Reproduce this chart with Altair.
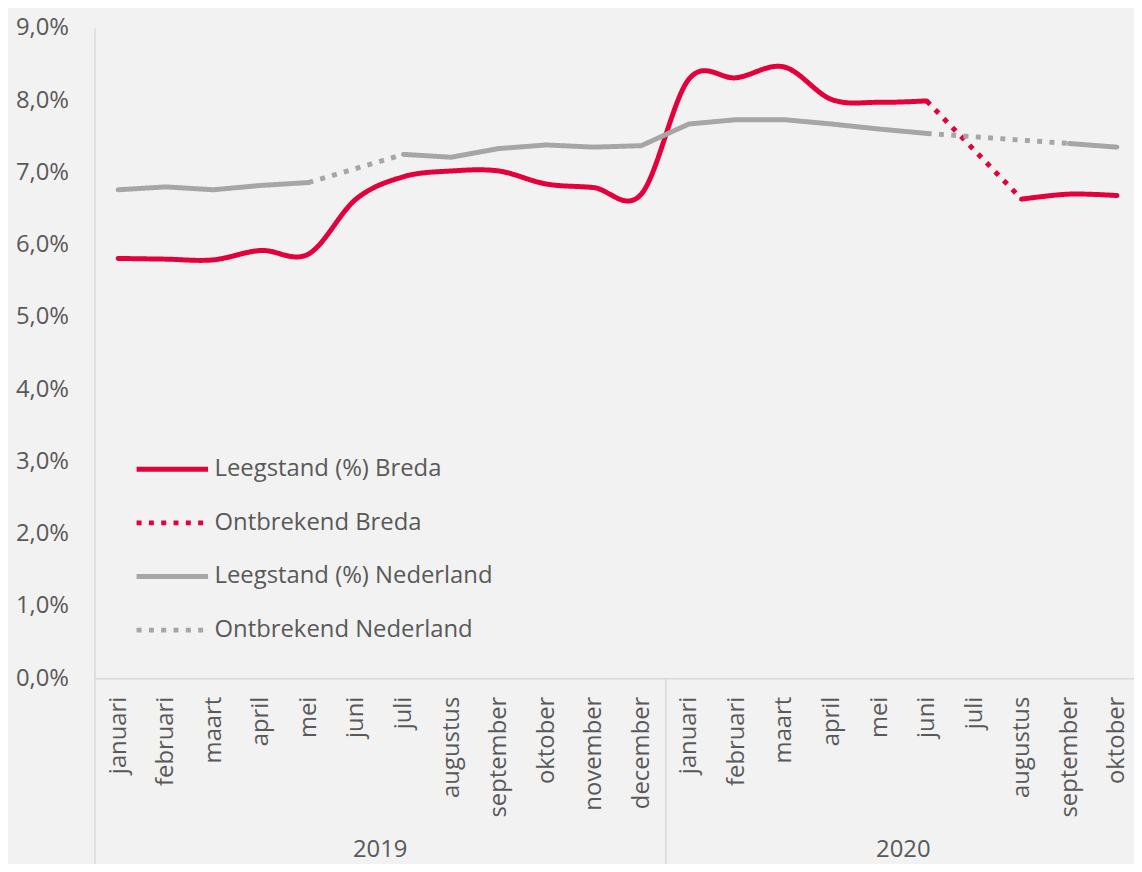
import altair as alt
import pandas as pd

months = ["januari", "februari", "maart", "april", "mei", "juni", "juli",
          "augustus", "september", "oktober", "november", "december"]
years = ["2019", "2020"]
month_labels = months + months[:10]

breda = [5.81, 5.80, 5.79, 5.92, 5.87, 6.63, 6.94, 7.02, 7.02, 6.84, 6.79, 6.70,
         8.29, 8.31, 8.46, 8.01, 7.97, 7.99, None, 6.63, 6.70, 6.68]
nederland = [6.76, 6.80, 6.76, 6.82, 6.86, None, 7.25, 7.21, 7.33, 7.38, 7.35, 7.37,
             7.67, 7.73, 7.73, 7.67, 7.60, 7.54, None, None, 7.40, 7.35]

series_names = ["Leegstand (%) Breda", "Ontbrekend Breda",
                "Leegstand (%) Nederland", "Ontbrekend Nederland"]
series_colors = ["#e3003b", "#e3003b", "#a6a6a6", "#a6a6a6"]
series_dash = [[1, 0], [5, 7.4], [1, 0], [5, 7.4]]


def build(values, solid_name, dotted_name, tag):
    solid, dotted = [], []
    runs, cur = [], []
    for i, v in enumerate(values):
        if v is None:
            if cur:
                runs.append(cur)
            cur = []
        else:
            cur.append(i)
    if cur:
        runs.append(cur)
    for k, r in enumerate(runs):
        for i in r:
            solid.append({"idx": i, "value": values[i], "series": solid_name, "seg": f"{tag}s{k}"})
    for k in range(len(runs) - 1):
        a, b = runs[k][-1], runs[k + 1][0]
        for i in (a, b):
            dotted.append({"idx": i, "value": values[i], "series": dotted_name, "seg": f"{tag}d{k}"})
    return pd.DataFrame(solid), pd.DataFrame(dotted)


b_solid, b_dot = build(breda, series_names[0], series_names[1], "b")
n_solid, n_dot = build(nederland, series_names[2], series_names[3], "n")

FONT = "Open Sans"
FS = 24
LABEL = "#595959"
LINEC = "#d9d9d9"

month_arr = "[" + ",".join(f"'{m}'" for m in month_labels) + "]"
year_arr = "[" + ",".join(f"'{y}'" for y in years) + "]"

xscale = alt.Scale(domain=[-0.5, 21.36], nice=False, zero=False)

y_enc = alt.Y("value:Q", scale=alt.Scale(domain=[0, 9], nice=False),
              axis=alt.Axis(values=list(range(10)), title=None, grid=False, ticks=False,
                            domain=True, domainColor=LINEC, domainWidth=1.5,
                            labelExpr="replace(format(datum.value, '.1f'), '.', ',') + '%'",
                            labelFontSize=FS, labelFont=FONT, labelColor=LABEL,
                            labelPadding=26))

legend_def = dict(title=None, orient="none", legendX=40, legendY=406,
                  symbolType="stroke", symbolSize=5184, symbolStrokeWidth=5,
                  labelFontSize=FS, labelFont=FONT, labelColor=LABEL, labelLimit=0,
                  labelOffset=4, rowPadding=3)

color_enc = alt.Color("series:N", scale=alt.Scale(domain=series_names, range=series_colors),
                      legend=alt.Legend(**legend_def))
dash_enc = alt.StrokeDash("series:N", scale=alt.Scale(domain=series_names, range=series_dash),
                          legend=alt.Legend(**legend_def))

month_axis = alt.Axis(orient="bottom", values=list(range(len(month_labels))), title=None,
                      grid=False, ticks=False, domain=True, domainColor=LINEC, domainWidth=1.5,
                      labelExpr=month_arr + "[datum.value]", labelAngle=270, labelAlign="right",
                      labelBaseline="middle", labelPadding=18, labelFontSize=FS,
                      labelFont=FONT, labelColor=LABEL, labelOverlap=False)
year_axis = alt.Axis(orient="bottom", values=[5.5, 16.5], title=None, grid=False, ticks=False,
                     domain=False, labelExpr=year_arr + "[datum.value < 11.5 ? 0 : 1]",
                     labelAngle=0, labelPadding=160, labelFontSize=FS, labelFont=FONT,
                     labelColor=LABEL, labelOverlap=False)
sep_axis = alt.Axis(orient="bottom", values=[-0.5, 11.5], title=None, grid=False, ticks=True,
                    tickSize=192, tickColor=LINEC, tickWidth=1.5, labels=False, domain=False)

solid_style = dict(strokeWidth=5, strokeCap="round", strokeJoin="round")
dot_style = dict(strokeWidth=5, strokeCap="butt", strokeJoin="round")

l1 = alt.Chart(b_solid).mark_line(interpolate="cardinal", **solid_style).encode(
    x=alt.X("idx:Q", scale=xscale, axis=month_axis), y=y_enc,
    color=color_enc, strokeDash=dash_enc, detail="seg:N")
l2 = alt.Chart(b_dot).mark_line(**dot_style).encode(
    x=alt.X("idx:Q", scale=xscale, axis=year_axis), y=y_enc,
    color=color_enc, strokeDash=dash_enc, detail="seg:N")
l3 = alt.Chart(n_solid).mark_line(**solid_style).encode(
    x=alt.X("idx:Q", scale=xscale, axis=sep_axis), y=y_enc,
    color=color_enc, strokeDash=dash_enc, detail="seg:N")
l4 = alt.Chart(n_dot).mark_line(**dot_style).encode(
    x=alt.X("idx:Q", scale=xscale, axis=None), y=y_enc,
    color=color_enc, strokeDash=dash_enc, detail="seg:N")

chart = alt.layer(l1, l2, l3, l4).resolve_axis(x="independent").properties(
    width=1047, height=655,
    autosize=alt.AutoSizeParams(type="none"),
    padding={"left": 87, "top": 17, "right": 0, "bottom": 184},
    background="#f2f2f2",
).configure_view(stroke=None)

chart.save("out.html", embed_options={"renderer": "svg", "actions": False})
